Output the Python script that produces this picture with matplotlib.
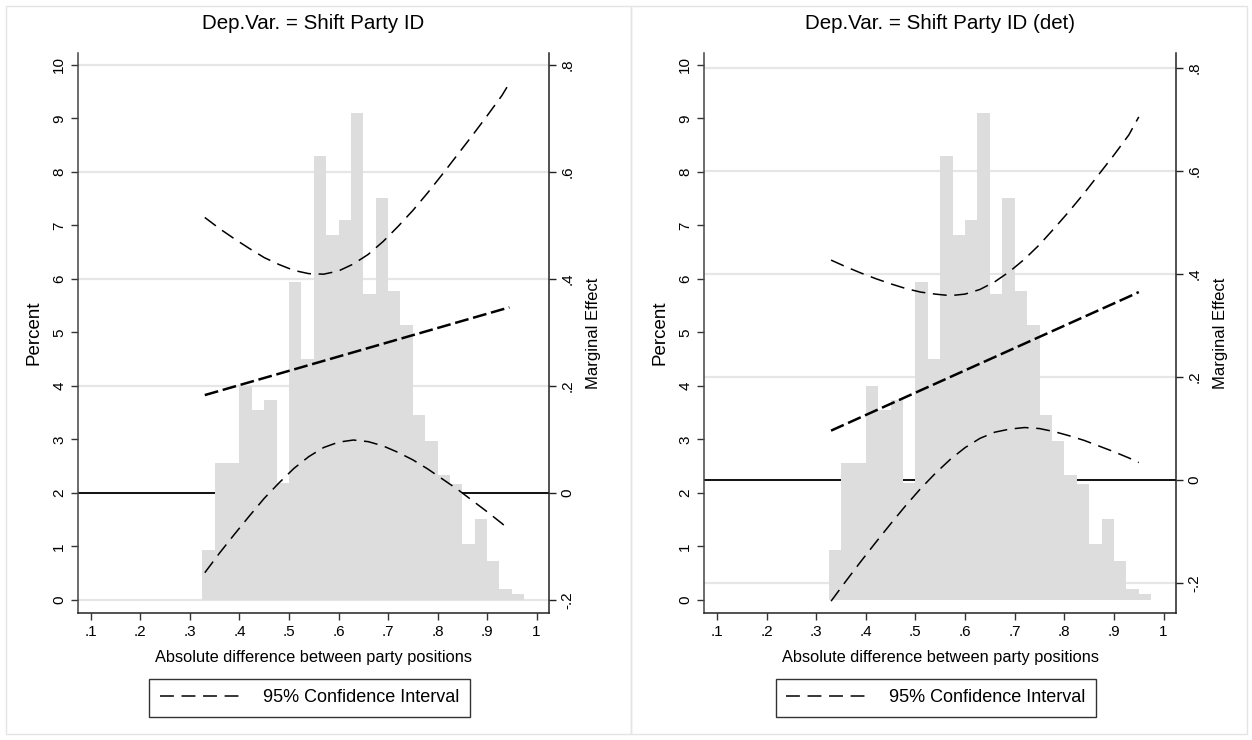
import matplotlib
matplotlib.use("Agg")
import matplotlib.pyplot as plt
from matplotlib.patches import Rectangle
from matplotlib.lines import Line2D

plt.rcParams['font.family'] = ['Liberation Sans', 'DejaVu Sans']
plt.rcParams['lines.scale_dashes'] = False

# ---------------- data ----------------
titles = ["Dep.Var. = Shift Party ID", "Dep.Var. = Shift Party ID (det)"]
x_label = "Absolute difference between party positions"
legend_label = "95% Confidence Interval"

bin_width = 0.025
bin_lefts = [0.325, 0.350, 0.375, 0.400, 0.425, 0.450, 0.475, 0.500, 0.525,
             0.550, 0.575, 0.600, 0.625, 0.650, 0.675, 0.700, 0.725, 0.750,
             0.775, 0.800, 0.825, 0.850, 0.875, 0.900, 0.925, 0.950]
hist_pct = [0.93, 2.57, 2.57, 4.00, 3.56, 3.73, 2.18, 5.95, 4.50, 8.29,
            6.83, 7.11, 9.10, 5.72, 7.52, 5.77, 5.14, 3.45, 2.98, 2.34,
            2.17, 1.05, 1.51, 0.72, 0.20, 0.12]

x_left = [0.33, 0.36, 0.39, 0.42, 0.45, 0.48, 0.51, 0.54, 0.57, 0.60, 0.63,
          0.66, 0.69, 0.72, 0.75, 0.78, 0.81, 0.84, 0.87, 0.90, 0.93, 0.945]
me_left = [0.183, 0.191, 0.199, 0.207, 0.215, 0.223, 0.231, 0.239, 0.247,
           0.255, 0.263, 0.271, 0.279, 0.287, 0.295, 0.303, 0.311, 0.319,
           0.327, 0.335, 0.343, 0.347]
up_left = [0.515, 0.494, 0.475, 0.457, 0.440, 0.427, 0.416, 0.410, 0.409,
           0.415, 0.428, 0.446, 0.470, 0.498, 0.528, 0.561, 0.596, 0.632,
           0.668, 0.705, 0.743, 0.766]
lo_left = [-0.149, -0.112, -0.077, -0.043, -0.010, 0.019, 0.046, 0.068, 0.085,
           0.095, 0.099, 0.096, 0.088, 0.076, 0.062, 0.045, 0.026, 0.007,
           -0.014, -0.035, -0.057, -0.069]

x_right = [0.33, 0.36, 0.39, 0.42, 0.45, 0.48, 0.51, 0.54, 0.57, 0.60, 0.63,
           0.66, 0.69, 0.72, 0.75, 0.78, 0.81, 0.84, 0.87, 0.90, 0.93, 0.95]
me_right = [0.096, 0.109, 0.122, 0.135, 0.148, 0.161, 0.174, 0.187, 0.200,
            0.213, 0.226, 0.239, 0.252, 0.265, 0.278, 0.291, 0.304, 0.317,
            0.330, 0.343, 0.356, 0.365]
up_right = [0.427, 0.414, 0.402, 0.391, 0.381, 0.372, 0.365, 0.361, 0.358,
            0.361, 0.370, 0.385, 0.405, 0.429, 0.457, 0.489, 0.522, 0.557,
            0.594, 0.631, 0.670, 0.705]
lo_right = [-0.235, -0.196, -0.158, -0.121, -0.085, -0.050, -0.017, 0.013,
            0.040, 0.063, 0.081, 0.093, 0.099, 0.102, 0.100, 0.094, 0.086,
            0.077, 0.066, 0.055, 0.043, 0.034]

xticks = [0.1, 0.2, 0.3, 0.4, 0.5, 0.6, 0.7, 0.8, 0.9, 1.0]
xtick_labels = [".1", ".2", ".3", ".4", ".5", ".6", ".7", ".8", ".9", "1"]
pct_ticks = [0, 1, 2, 3, 4, 5, 6, 7, 8, 9, 10]
pct_labels = [str(v) for v in pct_ticks]
me_ticks = [-0.2, 0.0, 0.2, 0.4, 0.6, 0.8]
me_labels = ["-.2", "0", ".2", ".4", ".6", ".8"]

panels = [
    dict(title=titles[0], x=x_left, me=me_left, up=up_left, lo=lo_left,
         me_lim=(-0.2243, 0.8224)),
    dict(title=titles[1], x=x_right, me=me_right, up=up_right, lo=lo_right,
         me_lim=(-0.258, 0.829)),
]

# ---------------- layout ----------------
W, H = 1252, 740
fig = plt.figure(figsize=(W / 100, H / 100), dpi=100)
fig.patch.set_facecolor("white")

def fx(px):
    return px / W

def fy(py):
    return 1 - py / H

# panel frames
fig.patches.append(Rectangle((fx(6), fy(734)), fx(625), (734 - 6) / H,
                             transform=fig.transFigure, fill=False,
                             edgecolor="#E4E4E4", lw=1.0))
fig.patches.append(Rectangle((fx(631), fy(734)), fx(616), (734 - 6) / H,
                             transform=fig.transFigure, fill=False,
                             edgecolor="#E4E4E4", lw=1.0))

ax_x0 = [78, 704]
ax_x1 = [549, 1176]
ax_top, ax_bot = 53, 613
xlim = (0.074, 1.025)
pct_lim = (-0.243, 10.224)

grid_col = "#E6E6E6"
bar_col = "#DDDDDD"
ci_style = (0, (10, 5.5))
me_style = (0, (10, 3.4))

for i, p in enumerate(panels):
    rect = [fx(ax_x0[i]), fy(ax_bot), (ax_x1[i] - ax_x0[i]) / W,
            (ax_bot - ax_top) / H]
    # back axis: grid + zero line (ME scale)
    axb = fig.add_axes(rect)
    axb.set_xlim(*xlim)
    axb.set_ylim(*p["me_lim"])
    axb.set_yticks(me_ticks)
    axb.set_xticks([])
    axb.tick_params(left=False, labelleft=False)
    axb.yaxis.grid(True, color=grid_col, lw=1.6)
    axb.set_axisbelow(True)
    for s in axb.spines.values():
        s.set_visible(False)
    axb.axhline(0, color="black", lw=1.3, zorder=3)

    # histogram axis (percent scale)
    axh = fig.add_axes(rect)
    axh.patch.set_visible(False)
    axh.bar(bin_lefts, hist_pct, width=bin_width, align="edge",
            color=bar_col, linewidth=0)
    axh.set_xlim(*xlim)
    axh.set_ylim(*pct_lim)
    axh.set_xticks(xticks)
    axh.set_xticklabels(xtick_labels, fontsize=11)
    axh.set_yticks(pct_ticks)
    axh.set_yticklabels(pct_labels, fontsize=11, rotation=90, va="center")
    axh.tick_params(direction="out", length=5, width=1, color="#333333", pad=3.5)
    axh.spines["top"].set_visible(False)
    axh.spines["right"].set_visible(False)
    axh.spines["left"].set_color("#444444")
    axh.spines["left"].set_linewidth(1.1)
    axh.spines["bottom"].set_color("#222222")
    axh.spines["bottom"].set_linewidth(1.1)
    axh.set_ylabel("Percent", fontsize=13.5, labelpad=7)
    axh.set_xlabel(x_label, fontsize=11.8, labelpad=8)
    axh.set_title(p["title"], fontsize=14.8, pad=17)

    # front axis: marginal effect lines
    axf = fig.add_axes(rect)
    axf.patch.set_visible(False)
    axf.set_xlim(*xlim)
    axf.set_ylim(*p["me_lim"])
    axf.plot(p["x"], p["up"], color="black", lw=1.1, ls=ci_style)
    axf.plot(p["x"], p["lo"], color="black", lw=1.1, ls=ci_style)
    axf.plot(p["x"], p["me"], color="black", lw=1.8, ls=me_style)
    axf.set_xticks([])
    axf.yaxis.tick_right()
    axf.yaxis.set_label_position("right")
    axf.set_yticks(me_ticks)
    axf.set_yticklabels(me_labels, fontsize=11, rotation=90, va="center")
    axf.tick_params(direction="out", length=5, width=1, color="#222222", pad=3.5)
    for k in ("top", "left", "bottom"):
        axf.spines[k].set_visible(False)
    axf.spines["right"].set_color("#222222")
    axf.spines["right"].set_linewidth(1.1)
    axf.set_ylabel("Marginal Effect", fontsize=12, labelpad=8)

    # legend
    handle = Line2D([], [], color="black", lw=1.1, ls=ci_style)
    cx = (ax_x0[i] + ax_x1[i]) / 2 - 4
    leg = fig.legend([handle], [legend_label], loc="center",
                     bbox_to_anchor=(fx(cx), fy(698)),
                     fontsize=13, frameon=True, fancybox=False,
                     edgecolor="black", handlelength=4.4, handletextpad=1.3,
                     borderpad=0.6, borderaxespad=0)
    leg.get_frame().set_linewidth(1.0)

fig.savefig("out.png", dpi=100, facecolor="white")
